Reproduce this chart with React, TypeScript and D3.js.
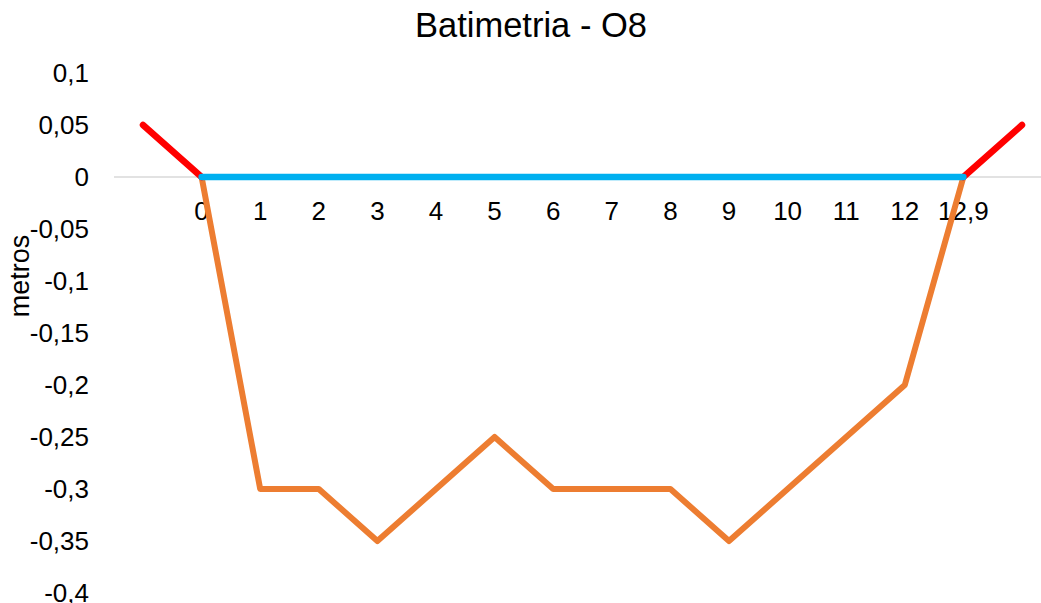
import React from "react";
import * as d3 from "d3";

const categories = ["", "0", "1", "2", "3", "4", "5", "6", "7", "8", "9", "10", "11", "12", "12,9", ""];
const keys = categories.map((c, i) => `${i}:${c}`);
const depth: (number | null)[] = [null, 0, -0.3, -0.3, -0.35, -0.3, -0.25, -0.3, -0.3, -0.3, -0.35, -0.3, -0.25, -0.2, 0, null];
const surface: (number | null)[] = [null, 0, 0, 0, 0, 0, 0, 0, 0, 0, 0, 0, 0, 0, 0, null];
const bankLeft: (number | null)[] = [0.05, 0, null, null, null, null, null, null, null, null, null, null, null, null, null, null];
const bankRight: (number | null)[] = [null, null, null, null, null, null, null, null, null, null, null, null, null, null, 0, 0.05];
const yTicks = [0.1, 0.05, 0, -0.05, -0.1, -0.15, -0.2, -0.25, -0.3, -0.35, -0.4];
const title = "Batimetria - O8";
const yTitle = "metros";

const W = 1041;
const H = 603;
const FONT = "'Liberation Sans', Arial, sans-serif";

export default function App() {
  const x = d3.scalePoint<string>().domain(keys).range([143, 1022]);
  const y = d3.scaleLinear().domain([-0.4, 0.1]).range([593, 73]);
  const fmt = (v: number) => String(+v.toFixed(2)).replace(".", ",");

  const mk = (vals: (number | null)[]) =>
    d3
      .line<number | null>()
      .defined((d) => d !== null)
      .x((_, i) => x(keys[i]) as number)
      .y((d) => y(d as number))(vals) || "";

  return (
    <svg width={W} height={H} style={{ position: "absolute", left: 0, top: 0, background: "#fff" }} fontFamily={FONT}>
      <rect width={W} height={H} fill="#fff" />
      <text x={531} y={37} textAnchor="middle" fontSize={34.5} fill="#000">
        {title}
      </text>
      <line x1={114} x2={W} y1={y(0)} y2={y(0)} stroke="#D9D9D9" strokeWidth={1.5} />
      {yTicks.map((t) => (
        <text key={t} x={89} y={y(t) + 9} textAnchor="end" fontSize={26} fill="#000">
          {fmt(t)}
        </text>
      ))}
      <text transform={`translate(29,276) rotate(-90)`} textAnchor="middle" fontSize={27} fill="#000">
        {yTitle}
      </text>
      {keys.map((k, i) => (
        <text key={k} x={x(k) as number} y={220} textAnchor="middle" fontSize={26} fill="#000">
          {categories[i]}
        </text>
      ))}
      <path d={mk(depth)} fill="none" stroke="#ED7D31" strokeWidth={6} strokeLinejoin="round" strokeLinecap="round" />
      <path d={mk(bankLeft)} fill="none" stroke="#FF0000" strokeWidth={6.5} strokeLinejoin="round" strokeLinecap="round" />
      <path d={mk(bankRight)} fill="none" stroke="#FF0000" strokeWidth={6.5} strokeLinejoin="round" strokeLinecap="round" />
      <path d={mk(surface)} fill="none" stroke="#00B0F0" strokeWidth={6.5} strokeLinejoin="round" strokeLinecap="round" />
    </svg>
  );
}
